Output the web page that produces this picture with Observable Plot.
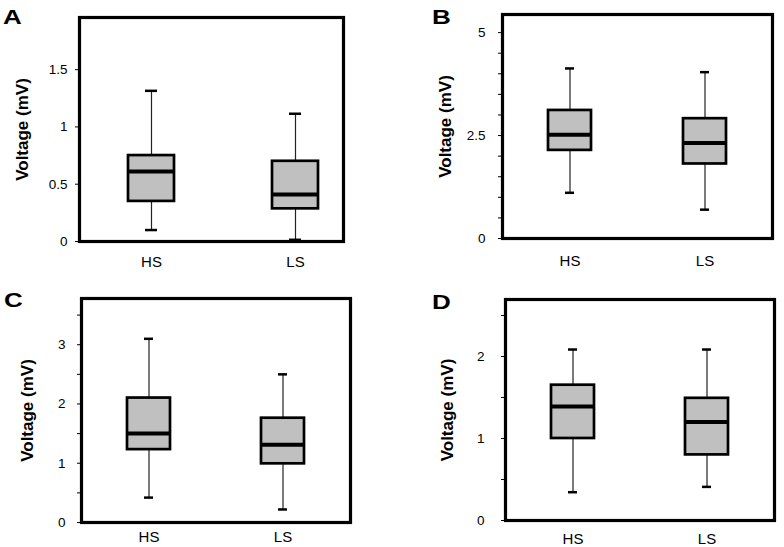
<!DOCTYPE html>
<html>
<head>
<meta charset="utf-8">
<script src="https://cdn.jsdelivr.net/npm/d3@7"></script>
<script src="https://cdn.jsdelivr.net/npm/@observablehq/plot@0.6"></script>
<style>
  html, body { margin: 0; padding: 0; background: #fff; }
  #root { position: relative; width: 784px; height: 547px; overflow: hidden; font-family: "Liberation Sans", Arial, sans-serif; }
  .panel { position: absolute; }
  .letter { position: absolute; font-weight: bold; font-size: 20px; line-height: 20px; transform: scaleX(1.3); transform-origin: left top; color: #000; }
  svg { overflow: visible; }
</style>
</head>
<body>
<div id="root"></div>
<script>
// ---- data ----
const groups = ["HS", "LS"];
const yLabel = "Voltage (mV)";
const panelLetters = ["A", "B", "C", "D"];

// Panel A
const lowA  = [0.10, 0.015];
const q1A   = [0.35, 0.285];
const medA  = [0.61, 0.41];
const q3A   = [0.75, 0.70];
const highA = [1.315, 1.115];
const ticksA  = [0, 0.5, 1, 1.5];
const labelsA = [0, 0.5, 1, 1.5];

// Panel B
const lowB  = [1.11, 0.70];
const q1B   = [2.14, 1.81];
const medB  = [2.52, 2.32];
const q3B   = [3.11, 2.91];
const highB = [4.13, 4.04];
const ticksB  = [0, 0.5, 1, 1.5, 2, 2.5, 3, 3.5, 4, 4.5, 5];
const labelsB = [0, 2.5, 5];

// Panel C
const lowC  = [0.42, 0.22];
const q1C   = [1.23, 0.99];
const medC  = [1.50, 1.31];
const q3C   = [2.10, 1.76];
const highC = [3.10, 2.50];
const ticksC  = [0, 0.5, 1, 1.5, 2, 2.5, 3, 3.5];
const labelsC = [0, 1, 2, 3];

// Panel D
const lowD  = [0.345, 0.41];
const q1D   = [1.00, 0.80];
const medD  = [1.39, 1.20];
const q3D   = [1.65, 1.49];
const highD = [2.085, 2.085];
const ticksD  = [0, 0.5, 1, 1.5, 2, 2.5];
const labelsD = [0, 1, 2];

function rows(low, q1, med, q3, high) {
  return groups.map((g, i) => ({group: g, low: low[i], q1: q1[i], med: med[i], q3: q3[i], high: high[i]}));
}

const bandStd = {paddingInner: 0.68, paddingOuter: 0.34, align: 0.5};
const bandA = {paddingInner: 0.683, paddingOuter: 0.252, align: 0.657};

const panels = [
  {letter: panelLetters[0], left: 0,   top: 0,   width: 392, height: 280, ml: 79,  mr: 49, mt: 17, mb: 39, ymax: 1.955, band: bandA,   data: rows(lowA, q1A, medA, q3A, highA), ticks: ticksA, labels: labelsA, tickPad: 8,  xPad: 15, labDx: -57, lx: 3,   ly: 7},
  {letter: panelLetters[1], left: 392, top: 0,   width: 392, height: 280, ml: 110, mr: 12, mt: 14, mb: 42, ymax: 5.44,  band: bandStd, data: rows(lowB, q1B, medB, q3B, highB), ticks: ticksB, labels: labelsB, tickPad: 13, xPad: 17, labDx: -57, lx: 432, ly: 7},
  {letter: panelLetters[2], left: 0,   top: 280, width: 392, height: 267, ml: 81,  mr: 42, mt: 18, mb: 25, ymax: 3.78,  band: bandStd, data: rows(lowC, q1C, medC, q3C, highC), ticks: ticksC, labels: labelsC, tickPad: 12, xPad: 9,  labDx: -54, lx: 4,   ly: 290},
  {letter: panelLetters[3], left: 392, top: 280, width: 392, height: 267, ml: 113, mr: 10, mt: 19, mb: 27, ymax: 2.695, band: bandStd, data: rows(lowD, q1D, medD, q3D, highD), ticks: ticksD, labels: labelsD, tickPad: 17, xPad: 13, labDx: -58, lx: 432, ly: 292}
];

const root = document.getElementById("root");

for (const p of panels) {
  const chart = Plot.plot({
    width: p.width,
    height: p.height,
    marginLeft: p.ml,
    marginRight: p.mr,
    marginTop: p.mt,
    marginBottom: p.mb,
    style: {fontFamily: "'Liberation Sans', Arial, sans-serif", background: "transparent", color: "#000"},
    x: {type: "band", domain: groups, ...p.band},
    y: {domain: [0, p.ymax]},
    marks: [
      Plot.axisY({
        ticks: p.ticks,
        tickFormat: d => p.labels.includes(d) ? String(d) : "",
        tickSize: 4,
        tickPadding: p.tickPad,
        fontSize: 13.5,
        label: null,
        stroke: "#000",
        style: {letterSpacing: "1.3px"}
      }),
      Plot.axisX({
        tickSize: 0,
        tickPadding: p.xPad,
        fontSize: 15,
        label: null,
        style: {letterSpacing: "1.5px"}
      }),
      Plot.text([yLabel], {
        text: d => d,
        frameAnchor: "left",
        rotate: -90,
        dx: p.labDx,
        textAnchor: "middle",
        lineAnchor: "middle",
        fontWeight: "bold",
        fontSize: 17,
        fill: "#000"
      }),
      Plot.ruleX(p.data, {x: "group", y1: "low", y2: "high", stroke: "#222", strokeWidth: 1.2}),
      Plot.rect(p.data, {x: "group", y1: "q1", y2: "q3", fill: "#c0c0c0", stroke: "#000", strokeWidth: 2.7}),
      Plot.tickY(p.data, {x: "group", y: "med", stroke: "#000", strokeWidth: 4}),
      Plot.tickY(p.data, {x: "group", y: "high", stroke: "#000", strokeWidth: 2.5, insetLeft: 17, insetRight: 17}),
      Plot.tickY(p.data, {x: "group", y: "low", stroke: "#000", strokeWidth: 2.5, insetLeft: 17, insetRight: 17}),
      Plot.frame({stroke: "#000", strokeWidth: 3.2})
    ]
  });
  const div = document.createElement("div");
  div.className = "panel";
  div.style.left = p.left + "px";
  div.style.top = p.top + "px";
  div.appendChild(chart);
  root.appendChild(div);

  const lt = document.createElement("div");
  lt.className = "letter";
  lt.style.left = p.lx + "px";
  lt.style.top = p.ly + "px";
  lt.textContent = p.letter;
  root.appendChild(lt);
}
</script>
</body>
</html>
